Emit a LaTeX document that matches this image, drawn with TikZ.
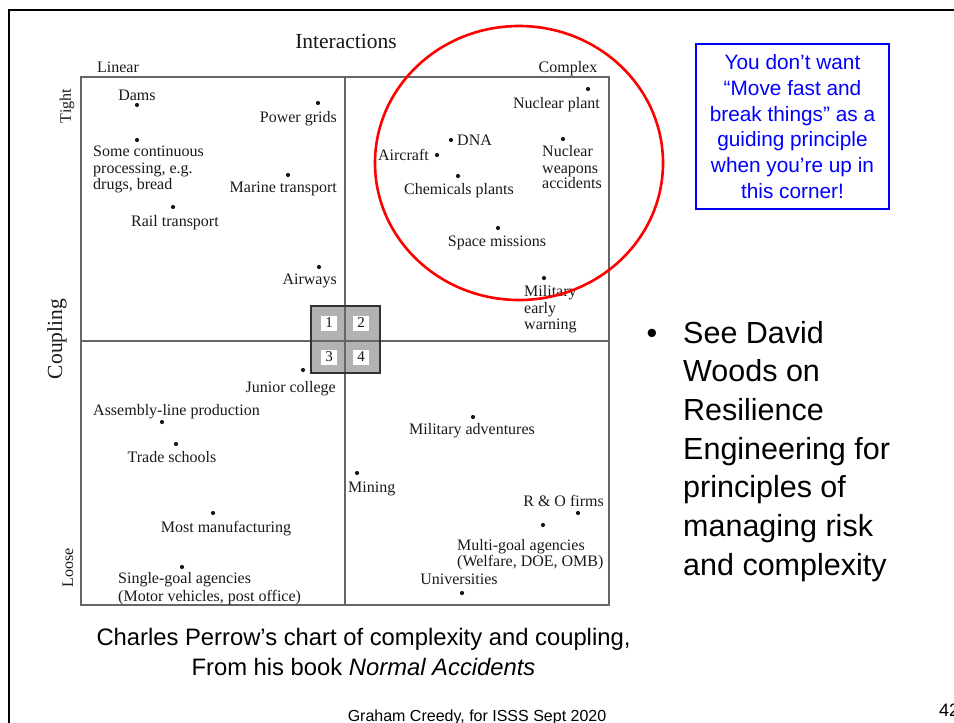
\documentclass[tikz,border=0pt]{standalone}
\usepackage{fontspec}
\setmainfont{Liberation Serif}
\newfontfamily\arialf{Liberation Sans}
\newcommand\chartfs{\fontsize{16}{16.5}\selectfont}
\begin{document}
\begin{tikzpicture}[x=1pt,y=-1pt,
  lab/.style={font=\chartfs, inner sep=0pt, text=black!90},
  lbase/.style={lab, anchor=base},
  lwest/.style={lab, anchor=base west},
  least/.style={lab, anchor=base east},
  dotk/.style={circle, fill=black!90, inner sep=0pt, minimum size=4.2pt},
  axis/.style={draw=black!60, line width=1.2pt},
  numbox/.style={fill=white, inner sep=0pt, minimum width=16pt, minimum height=15pt, font=\fontsize{15}{15}\selectfont, text=black!90},
  sans/.style={font=\arialf, inner sep=0pt},
  bul/.style={sans, anchor=base west, font=\arialf\fontsize{30.5}{38.7}\selectfont}
]
\useasboundingbox (0,0) rectangle (954,723);
% slide frame
\draw[line width=2.6pt] (9,723) -- (9,10) -- (954,10);

% chart frame and dividers
\coordinate (tl) at (81,77);
\coordinate (br) at (609,605);
\draw[axis] (tl) rectangle (br);
\coordinate (vt) at (345,77);
\coordinate (vb) at (345,605);
\coordinate (hl) at (81,341);
\coordinate (hr) at (609,341);

% 2x2 box
\fill[black!30] (311,306) rectangle (380,373);
\draw[axis] (vt) -- (vb);
\draw[axis] (hl) -- (hr);
\draw[black!80, line width=2pt] (311,306) rectangle (380,373);
\node[numbox] (n1) at (329,323) {1};
\node[numbox] (n2) at (361,323) {2};
\node[numbox] (n3) at (329,357) {3};
\node[numbox] (n4) at (361,357) {4};

% axis titles
\node[lab, anchor=base, font=\fontsize{21.5}{21.5}\selectfont] (inter) at (346,48.5) {Interactions};
\node[lbase] (linear) at (118,72) {Linear};
\node[lbase] (complex) at (568,72) {Complex};
\node[lab, rotate=90] (tight) at (67,106) {Tight};
\node[lab, rotate=90] (loose) at (68,568) {Loose};
\node[lab, rotate=90, font=\fontsize{21.5}{21.5}\selectfont] (coupling) at (57,339) {Coupling};

% upper left
\node[dotk] (d1) at (137,105) {};
\node[lbase] (t1) at (137,100) {Dams};
\node[dotk] (d2) at (318,103) {};
\node[least] (t2) at (337,122) {Power grids};
\node[dotk] (d3) at (137,140) {};
\node[lwest] (t3a) at (93,156) {Some continuous};
\node[lwest] (t3b) at (93,173) {processing, e.g.};
\node[lwest] (t3c) at (93,189) {drugs, bread};
\node[dotk] (d4) at (288,175) {};
\node[least] (t4) at (337,192) {Marine transport};
\node[dotk] (d5) at (173,207) {};
\node[lwest] (t5) at (131,226) {Rail transport};
\node[dotk] (d6) at (319,267) {};
\node[least] (t6) at (337,284) {Airways};

% upper right
\node[dotk] (d7) at (588,89) {};
\node[least] (t7) at (600,108) {Nuclear plant};
\node[dotk] (d8) at (451,140) {};
\node[lwest] (t8) at (457,145) {DNA};
\node[dotk] (d9) at (437,155) {};
\node[least] (t9) at (429,160) {Aircraft};
\node[dotk] (d10) at (458,176) {};
\node[lbase] (t10) at (459,194) {Chemicals plants};
\node[dotk] (d11) at (563,139) {};
\node[lwest] (t11a) at (542,156) {Nuclear};
\node[lwest] (t11b) at (542,173) {weapons};
\node[lwest] (t11c) at (542,188) {accidents};
\node[dotk] (d12) at (498,228) {};
\node[lbase] (t12) at (497,246) {Space missions};
\node[dotk] (d13) at (544,278) {};
\node[lwest] (t13a) at (524,296) {Military};
\node[lwest] (t13b) at (524,313) {early};
\node[lwest] (t13c) at (524,329) {warning};

% lower left
\node[dotk] (d14) at (303,370) {};
\node[least] (t14) at (336,392) {Junior college};
\node[lwest] (t15) at (93,415) {Assembly-line production};
\node[dotk] (d15) at (162,422) {};
\node[dotk] (d16) at (176,444) {};
\node[lbase] (t16) at (172,462) {Trade schools};
\node[dotk] (d17) at (213,513) {};
\node[lbase] (t17) at (226,532) {Most manufacturing};
\node[dotk] (d18) at (182,567) {};
\node[lwest] (t18a) at (118,583) {Single-goal agencies};
\node[lwest] (t18b) at (118,601) {(Motor vehicles, post office)};

% lower right
\node[dotk] (d19) at (473,417) {};
\node[lbase] (t19) at (472,434) {Military adventures};
\node[dotk] (d20) at (357,473) {};
\node[lwest] (t20) at (348,492) {Mining};
\node[least] (t21) at (604,506) {R \& O firms};
\node[dotk] (d21) at (578,513) {};
\node[dotk] (d22) at (543,525) {};
\node[lwest] (t22a) at (457,550) {Multi-goal agencies};
\node[lwest] (t22b) at (457,566) {(Welfare, DOE, OMB)};
\node[lbase] (t23) at (459,584) {Universities};
\node[dotk] (d23) at (462,593) {};

% red ellipse
\draw[red, line width=2.6pt] (519,163) ellipse [x radius=144, y radius=137];

% blue box
\node[draw=blue, line width=1.6pt, text=blue, font=\arialf\fontsize{20.8}{25.7}\selectfont,
  align=center, minimum width=193pt, minimum height=165pt, inner sep=0pt] (note) at (792.5,126.5)
  {You don’t want\\“Move fast and\\break things” as a\\guiding principle\\when you’re up in\\this corner!};

% bullet text
\node[sans, anchor=base, font=\arialf\fontsize{30.5}{38.7}\selectfont] (bul) at (652,343) {•};
\node[bul] (b1) at (683,343) {See David};
\node[bul] (b2) at (683,381.7) {Woods on};
\node[bul] (b3) at (683,420.4) {Resilience};
\node[bul] (b4) at (683,459.1) {Engineering for};
\node[bul] (b5) at (683,497.8) {principles of};
\node[bul] (b6) at (683,536.5) {managing risk};
\node[bul] (b7) at (683,575.2) {and complexity};

% caption
\node[sans, anchor=base, font=\arialf\fontsize{23.8}{30}\selectfont] (cap1) at (363.5,645.5) {Charles Perrow’s chart of complexity and coupling,};
\node[sans, anchor=base, font=\arialf\fontsize{23.8}{30}\selectfont] (cap2) at (363.5,675) {From his book \textit{Normal Accidents}};

% footer
\node[sans, anchor=base, font=\arialf\fontsize{16}{16}\selectfont] (foot) at (477,721) {Graham Creedy, for ISSS Sept 2020};
\node[sans, anchor=base west, font=\arialf\fontsize{18}{18}\selectfont] (pg) at (939,716) {42};
\end{tikzpicture}
\end{document}
